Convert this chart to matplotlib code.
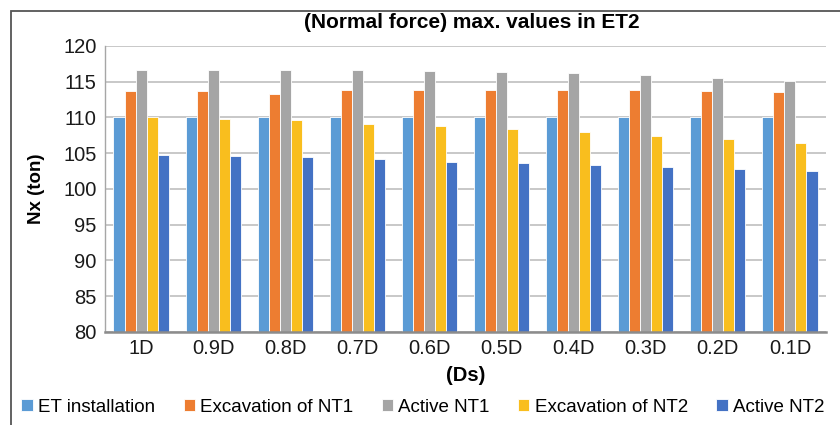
import numpy as np
import matplotlib.pyplot as plt
from matplotlib.patches import Rectangle

plt.rcParams['font.family'] = ['Liberation Sans', 'DejaVu Sans']

cases = ['1D', '0.9D', '0.8D', '0.7D', '0.6D', '0.5D', '0.4D', '0.3D', '0.2D', '0.1D']
et_install = [110.0, 110.0, 110.0, 110.0, 110.0, 110.0, 110.0, 110.0, 110.0, 110.0]
exc_nt1 = [113.7, 113.75, 113.35, 113.85, 113.9, 113.9, 113.85, 113.8, 113.7, 113.6]
active_nt1 = [116.7, 116.7, 116.7, 116.7, 116.55, 116.4, 116.2, 115.9, 115.5, 115.05]
exc_nt2 = [110.0, 109.8, 109.6, 109.1, 108.85, 108.4, 108.0, 107.45, 107.0, 106.4]
active_nt2 = [104.8, 104.6, 104.5, 104.2, 103.8, 103.6, 103.35, 103.1, 102.85, 102.55]

series = [
    ('ET installation', et_install, '#5B9BD5'),
    ('Excavation of NT1', exc_nt1, '#ED7D31'),
    ('Active NT1', active_nt1, '#A5A5A5'),
    ('Excavation of NT2', exc_nt2, '#F9BE1E'),
    ('Active NT2', active_nt2, '#4472C4'),
]

fig = plt.figure(figsize=(8.4, 4.25), dpi=100)
ax = fig.add_axes([105 / 840, 1 - 332 / 425, 721 / 840, 286 / 425])

x = np.arange(len(cases))
w = 0.153
for i, (name, vals, col) in enumerate(series):
    ax.bar(x + (i - 2) * w, np.array(vals) - 80, bottom=80, width=w, color=col,
           edgecolor='white', linewidth=0.6, label=name, zorder=3)

ax.set_xlim(-0.5, len(cases) - 0.5)
ax.set_ylim(80, 120)
ax.set_yticks(np.arange(80, 121, 5))
ax.set_xticks(x)
ax.set_xticklabels(cases)
ax.tick_params(axis='both', labelsize=14.5, length=0, colors='#1a1a1a')
ax.tick_params(axis='x', pad=5)
ax.tick_params(axis='y', pad=6)
ax.grid(axis='y', color='#bfbfbf', linewidth=1.2, zorder=0)

for s in ['top', 'right']:
    ax.spines[s].set_visible(False)
ax.spines['left'].set_color('#a6a6a6')
ax.spines['left'].set_linewidth(1.0)
ax.spines['bottom'].set_color('#8c8c8c')
ax.spines['bottom'].set_linewidth(1.8)
ax.spines['bottom'].set_zorder(4)

ax.set_ylabel('Nx (ton)', fontsize=13.5, fontweight='bold')
ax.yaxis.set_label_coords(-(105 - 45) / 721, 0.5)
ax.set_xlabel('(Ds)', fontsize=14.5, fontweight='bold', labelpad=6)
fig.text(472 / 840, 1 - 22 / 425, '(Normal force) max. values in ET2',
         ha='center', va='center', fontsize=15, fontweight='bold')

ax.legend(loc='center', bbox_to_anchor=(423 / 840, 1 - 407 / 425), bbox_transform=fig.transFigure,
          ncol=5, frameon=False, fontsize=13.5, handlelength=0.6, handleheight=0.6,
          handletextpad=0.3, columnspacing=1.5)

# outer chart frame
fig.patches.append(Rectangle((11 / 840, -0.1), 1.0, 1 - 11 / 425 + 0.1,
                             transform=fig.transFigure, fill=False,
                             edgecolor='#555555', linewidth=1.3))

fig.savefig('out.png', dpi=100)
